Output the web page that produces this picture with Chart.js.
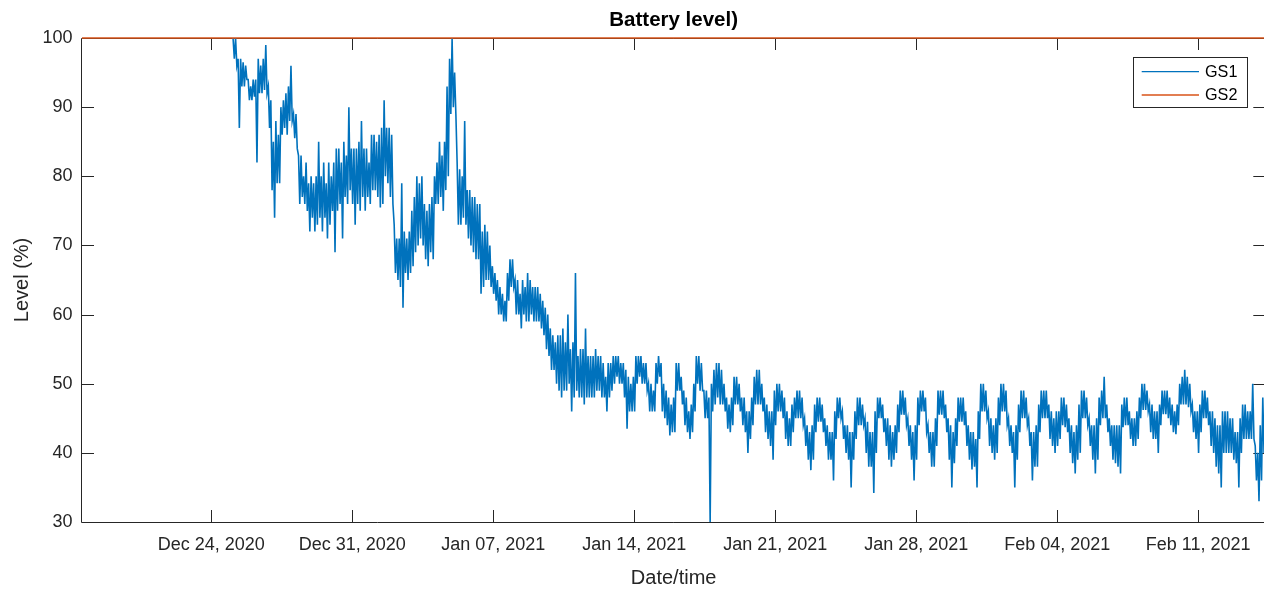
<!DOCTYPE html>
<html><head><meta charset="utf-8">
<script src="https://cdn.jsdelivr.net/npm/chart.js@4/dist/chart.umd.min.js"></script>
<style>
html,body{margin:0;padding:0;overflow:hidden;background:#fff;width:1264px;height:590px}
#wrap{position:absolute;left:0;top:0;width:1268px;height:590px}
</style>
</head><body><div id="wrap"><canvas id="c" width="1268" height="590"></canvas></div>
<script>
// ---- data (time in days since Dec 24, 2020 00:00) ----
const chartTitle = 'Battery level)';
const xAxisTitle = 'Date/time';
const yAxisTitle = 'Level (%)';
const seriesNames = ['GS1', 'GS2'];
const seriesColors = ['#0072BD', '#D95319'];
const tickDays = [0, 7, 14, 21, 28, 35, 42, 49];
const tickLabels = ['Dec 24, 2020', 'Dec 31, 2020', 'Jan 07, 2021', 'Jan 14, 2021',
                    'Jan 21, 2021', 'Jan 28, 2021', 'Feb 04, 2021', 'Feb 11, 2021'];
const yMin = 30, yMax = 100, yStep = 10;
const xStartDay = -6.4167;   // Dec 17, 2020 14:00
const xEndDay = 52.3333;     // Feb 14, 2021 08:00
const gs1StartDay = 1.0833;  // Dec 25, 2020 02:00
const gs1BinDays = 0.125;    // 3-hour bins: max and min reading of each bin
const gs1High = [
 100,100,97,97,96.5,96,94,93,
 94,94,97,96,97,99,93,91,
 85,88,86,90,91,92,93,96,
 89,89,83,83,80,82,79,80,
 79,80,85,80,82,79,82,80,
 82,84,84,82,85,83,90,84,
 84,84,85,88,84,84,82,86,
 86,85,86,87,91,87,87,86,
 73,71,71,79,72,71,72,75,
 77,80,79,80,76,75,76,77,
 80,82,85,83,85,93,97,100,
 95,82,81,80,88,78,78,77,
 77,76,76,72,73,72,70,67,
 66,65,64,63,62,66,68,68,
 65,65,63,65,64,66,65,64,
 64,64,63,62,61,60,58,57,
 56,57,57,58,56,60,55,56,
 66,54,55,55,58,54,54,54,
 55,54,54,53,51,53,53,54,
 54,54,53,53,52,51,50,51,
 54,54,54,53,53,50,50,49,
 53,54,53,50,49,48,47,48,
 53,53,51,49,48,46,47,50,
 54,54,53,49,49,48,50,52,
 53,53,52,50,48,47,48,51,
 51,50,48,48,46,46,48,51,
 52,52,50,48,47,46,46,49,
 50,50,49,48,46,45,47,48,
 49,49,48,45,44,43,44,47,
 48,48,47,45,44,43,43,46,
 48,48,46,44,44,43,43,46,
 48,48,47,45,44.5,43,43,46,
 48,48,47,45,45,44,43,44,
 47,49,49,48,45,44,43,44,
 48,49,49,48,44,43,43,45,
 49,49,49,47,45,44,43,45,
 48,48,48,46,44,43,43,42,
 46,50,50,49,46,45,44,45,
 48,50,50,49,45,44,43,44,
 47,49,49,48,45,43,43,44,
 47,49,49,49,47,46,45,46,
 46,48,48,47,45,44,43,44,
 47,49,49,48,45,44,44,45,
 48,49,51,47,45,44,44,44,
 44,47,48,48,46,45,45,46,
 48,50,50,49,47,47,46,46,
 47,49,49,49,48,47,46,47,
 50,51,52,51,50,47,46,46,
 47,49,49,48,46,46,45,44,
 44,46,46,46,45,45,43,43,
 45,47,47,46,46,50,41,40,
 44,48
];
const gs1Low = [
 97,96,87,93,93,94,91,91,
 91.5,82,92,92,92.5,92,87,78,
 74,79,79,86,87,86,88,88,
 85.5,84,76,77,76,75,72,74,
 72,73,74,72,74,71,73,75,
 69,75,76,71,77,76,78,76,
 73,76,75,77,75,77,76,78,
 78,77,75.5,76,80,79,77,76,
 66,65,64,61,66,65,66,67,
 69,70,71,70,68,67,69,68,
 76,76,77,75,78,80,89,90,
 89,73,73,74,73,71,70,69,
 68,68,63,64,65,65,64,63,
 62,60,60,59,59,62,64,64,
 60,60,58,60,59,59,60,59,
 59,59,58,57,55,54,52,52,
 50,49,48,49,49,50,46,48,
 49,48,48,47,48,48,48,48,
 49,49,48,48,46,48,49,50,
 51,50,50,48,43.5,46,46,46,
 50,51,50,50,49,46,46,46,
 50,51,46,45,44,42.5,43,43,
 49,49,47,44,43,42,43,46,
 50,49,49,45,45,30,46,47,
 48,47,47,46,43.5,43,44,47,
 47,46,44,43,40,42,44,47,
 47,47,46,43,42,41,39,44,
 46,46,45,42,41,41,43,45,
 45,45,44,41,39,37.5,39,43,
 44.5,44.5,43,41,39,39,36,42,
 45,45,42,40,39,35,39,42,
 44,44,44,40,38,38,34.2,40,
 45,45,43,41,39,38,39,40,
 43,45.5,45.5,44,41,39,36,39,
 44,46,46,43,40,38,38,41,
 45.5,45.5,45,43,39,35,38.5,41,
 44.5,44.5,44,41,39,37.6,38,35,
 42,46,46,45,41,40,39,40,
 44,46,46,44,41,40,35,39,
 43,45,45,44,41,36,38,38,
 43,45,45,45,42,41,40,41,
 42,44,43.7,43,40,38.5,37,39,
 40,45,45,44,41,39,37,39,
 44,45,45,43,41,39,38.5,38,
 37,43.7,44,44,42,41,41,42,
 45,46.2,46.2,46,43,42,42,40,
 44,45.6,45.6,45,44,43,42.7,44,
 47,47,47,46.6,46,43,42,40,
 43,45,45,44,41,40,38,37,
 35,40,40,40,40,39,38.5,35,
 40,42,42,42,42,42,36,33,
 36,40
];
const gs2Days = [xStartDay, xEndDay];
const gs2Values = [100, 100];

const FONT = "'Liberation Sans', Arial, Helvetica, sans-serif";
const AXIS_COLOR = '#262626';

// each 3-hour bin contributes its high reading then its low reading
const gs1Data = [];
gs1High.forEach((hi, i) => {
  const t = gs1StartDay + i * gs1BinDays;
  gs1Data.push({x: t, y: hi});
  gs1Data.push({x: t + gs1BinDays / 2, y: gs1Low[i]});
});
const gs2Data = gs2Values.map((v, i) => ({x: gs2Days[i], y: v}));

const framePlugin = {
  id: 'frame',
  afterLayout(chart) {
    const t = chart.titleBlock;
    if (t) { t.left = chart.chartArea.left; t.right = chart.chartArea.right; t.width = t.right - t.left; }
  },
  beforeDatasetsDraw(chart) {
    const {ctx, chartArea: a, scales} = chart;
    ctx.save();
    ctx.strokeStyle = AXIS_COLOR;
    ctx.lineWidth = 1;
    ctx.beginPath();
    ctx.rect(Math.round(a.left) - 0.5, Math.round(a.top) + 0.5, a.right - a.left, a.bottom - a.top);
    ctx.stroke();
    const tl = 12;
    ctx.beginPath();
    tickDays.forEach(d => {
      const x = Math.round(scales.x.getPixelForValue(d)) + 0.5;
      ctx.moveTo(x, a.bottom); ctx.lineTo(x, a.bottom - tl);
      ctx.moveTo(x, a.top); ctx.lineTo(x, a.top + tl);
    });
    scales.y.ticks.forEach(t => {
      const y = Math.round(scales.y.getPixelForValue(t.value)) + 0.5;
      ctx.moveTo(a.left, y); ctx.lineTo(a.left + tl, y);
      ctx.moveTo(a.right, y); ctx.lineTo(a.right - tl, y);
    });
    ctx.stroke();
    ctx.restore();
  },
  afterDatasetsDraw(chart) {
    const {ctx, chartArea: a} = chart;
    const L = a.right - 132.3, T = a.top + 19, W = 114, H = 50;
    ctx.save();
    ctx.fillStyle = '#fff';
    ctx.fillRect(L, T, W, H);
    ctx.strokeStyle = AXIS_COLOR;
    ctx.lineWidth = 1;
    ctx.strokeRect(Math.round(L) + 0.5, Math.round(T) + 0.5, W, H);
    ctx.font = '16.2px ' + FONT;
    ctx.textBaseline = 'middle';
    ctx.textAlign = 'left';
    chart.data.datasets.forEach((ds, i) => {
      const y = T + 14.7 + i * 23.3;
      ctx.strokeStyle = ds.borderColor;
      ctx.lineWidth = 1.3;
      ctx.beginPath(); ctx.moveTo(L + 8.7, y); ctx.lineTo(L + 66, y); ctx.stroke();
      ctx.fillStyle = '#000';
      ctx.fillText(ds.label, L + 72, y + 1);
    });
    ctx.restore();
  }
};

new Chart(document.getElementById('c'), {
  type: 'line',
  data: {
    datasets: [
      {label: seriesNames[0], data: gs1Data, borderColor: seriesColors[0], backgroundColor: seriesColors[0],
       borderWidth: 1.6, pointRadius: 0, tension: 0, fill: false, order: 2, clip: 6},
      {label: seriesNames[1], data: gs2Data, borderColor: seriesColors[1], backgroundColor: seriesColors[1],
       borderWidth: 1.6, pointRadius: 0, tension: 0, fill: false, order: 1, clip: 6}
    ]
  },
  options: {
    responsive: false,
    devicePixelRatio: 1,
    animation: false,
    events: [],
    layout: {padding: {left: 0, right: 2.7, top: 0, bottom: 0}},
    plugins: {
      legend: {display: false},
      tooltip: {enabled: false},
      title: {display: true, text: chartTitle, color: '#000',
              font: {family: FONT, size: 20.5, weight: 'bold'},
              padding: {top: 7.7, bottom: 5.7}}
    },
    scales: {
      x: {
        type: 'linear', min: xStartDay, max: xEndDay,
        afterBuildTicks(scale) { scale.ticks = tickDays.map(v => ({value: v})); },
        afterFit(scale) { scale.height = 68; },
        ticks: {autoSkip: false, maxRotation: 0, padding: 12.5, color: AXIS_COLOR,
                font: {family: FONT, size: 18},
                callback: (v) => tickLabels[tickDays.indexOf(v)]},
        grid: {display: false, drawTicks: false},
        border: {display: false},
        title: {display: true, text: xAxisTitle, color: AXIS_COLOR,
                font: {family: FONT, size: 20}, padding: {top: 0, bottom: 0}}
      },
      y: {
        type: 'linear', min: yMin, max: yMax,
        afterFit(scale) { scale.width = 82; },
        ticks: {stepSize: yStep, padding: 9.5, color: AXIS_COLOR, font: {family: FONT, size: 18}},
        grid: {display: false, drawTicks: false},
        border: {display: false},
        title: {display: true, text: yAxisTitle, color: AXIS_COLOR,
                font: {family: FONT, size: 20}, padding: {top: 10, bottom: 0}}
      }
    }
  },
  plugins: [framePlugin]
});
</script>
</body></html>
